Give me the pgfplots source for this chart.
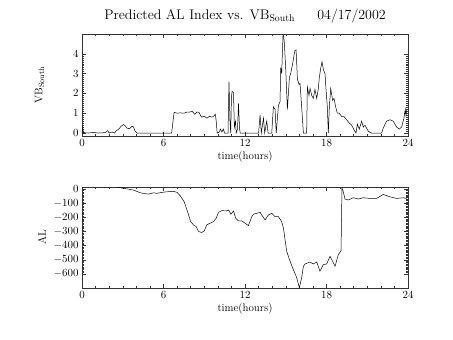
\documentclass[border=0pt]{standalone}
\usepackage{pgfplots}
\pgfplotsset{compat=1.18}
\pgfplotstableread{
h v
0 0
0.05 0.3
0.1 0.02
0.5 0.0
0.8 0.03
1.2 0.0
1.7 0.02
1.9 0.12
2.0 0.0
2.2 0.05
2.4 0.0
2.5 0.1
2.7 0.2
2.9 0.35
3.06 0.43
3.2 0.35
3.3 0.25
3.5 0.22
3.7 0.35
3.8 0.3
3.9 0.1
4.05 0
6.6 0
6.7 0.6
6.78 1.05
7.0 1.0
7.2 1.02
7.5 1.0
7.7 1.05
7.9 1.05
8.1 1.1
8.3 0.95
8.45 1.05
8.6 1.05
8.8 0.8
9.0 0.85
9.2 0.75
9.4 0.85
9.55 0.8
9.7 0.85
9.82 0.95
9.88 0.6
9.95 0
10.1 0.05
10.2 0.2
10.3 0.05
10.4 0.2
10.5 0
10.75 0
10.82 2.6
10.9 0.5
10.95 0
11.0 1.8
11.05 2.1
11.15 2.05
11.22 0.3
11.3 0.6
11.35 0
11.45 0.2
11.52 1.5
11.6 0.2
11.65 0
13.0 0
13.11 0.92
13.2 0
13.36 0.75
13.45 0
13.6 0.6
13.7 0
13.97 0
14.09 1.33
14.21 1.2
14.3 0
14.46 1.4
14.58 1.58
14.63 3.3
14.7 3.0
14.8 4.95
14.85 4.9
14.9 4.5
15.0 3.2
15.12 1.2
15.27 2.8
15.36 3.0
15.51 3.5
15.6 3.9
15.68 4.17
15.76 4.2
15.86 2.7
15.98 2.45
16.05 2.5
16.17 1.33
16.3 0
16.54 0
16.59 2.33
16.71 1.9
16.79 2.25
16.91 1.9
17.03 1.75
17.15 2.2
17.28 1.75
17.4 2.25
17.47 2.8
17.57 3.25
17.67 3.6
17.77 3.2
17.89 3.0
17.96 2.25
18.06 1.33
18.135 0
18.21 1.33
18.31 2.25
18.45 1.65
18.55 1.75
18.7 1.25
18.8 1.0
18.94 1.0
19.12 0.83
19.29 0.83
19.48 0.67
19.68 0.5
19.85 0.4
20.02 0.17
20.17 0
20.27 0.45
20.41 0.2
20.59 0.6
20.71 0.3
20.83 0.4
21.08 0.08
21.32 0
22.06 0
22.18 0.25
22.42 0.6
22.67 0.67
22.91 0.6
23.16 0.3
23.36 0.2
23.53 0.3
23.7 0.75
23.8 1.2
23.85 0.9
23.9 1.15
}\vbdata
\pgfplotstableread{
h al
2.6 15
3.06 5
3.55 -2
3.8 -7
4.3 -26
4.5 -30
4.9 -35
5.27 -26
5.5 -30
5.88 -23
6.25 -19
6.74 -16
7.0 -23
7.23 -47
7.52 -89
7.77 -160
8.0 -230
8.2 -253
8.4 -265
8.58 -300
8.82 -307
9.0 -295
9.19 -253
9.44 -241
9.68 -230
9.88 -206
10.05 -164
10.3 -152
10.66 -155
10.8 -148
10.96 -178
11.15 -155
11.32 -206
11.52 -225
11.76 -225
12.0 -241
12.25 -258
12.5 -195
12.62 -178
12.87 -171
13.11 -164
13.23 -183
13.48 -218
13.72 -183
13.97 -171
14.21 -195
14.46 -195
14.7 -230
14.83 -277
15.07 -441
15.32 -511
15.56 -570
15.81 -628
16.0 -698
16.17 -628
16.3 -546
16.42 -530
16.79 -516
17.03 -530
17.28 -516
17.52 -581
17.77 -534
18.01 -530
18.26 -476
18.45 -511
18.63 -546
18.87 -464
19.07 -436
19.14 5
19.19 0
19.36 -70
19.61 -77
19.97 -61
20.34 -70
20.71 -61
21.2 -66
21.69 -66
22.18 -38
22.67 -54
23.16 -66
23.65 -61
23.9 -66
}\aldata
\begin{document}
\begin{tikzpicture}
\path[use as bounding box] (0,0) rectangle (453bp,340bp);
\pgfplotsset{
  every axis/.append style={
    scale only axis, width=326bp,
    xmin=0, xmax=24, xtick={0,6,12,18,24}, minor x tick num=5,
    tick align=inside, major tick length=4bp, minor tick length=2bp,
    axis line style={line width=0.5pt, black!80},
    every tick/.style={black!80, line width=0.4pt},
    tick label style={font=\fontsize{11}{13}\selectfont},
    label style={font=\fontsize{11}{13}\selectfont},
    xlabel={time(hours)},
    xlabel style={yshift=2bp},
    minor y tick num=9,
  }
}
\begin{axis}[at={(82bp,204bp)}, anchor=south west, height=102bp,
  ymin=-0.15, ymax=5, ytick={0,1,2,3,4},
  ylabel={VB\textsubscript{South}},
  ylabel style={at={(axis description cs:-0.105,0.5)}, anchor=south},
  title={Predicted AL Index vs. VB\textsubscript{South}\hspace{1.6em}04/17/2002},
  title style={font=\fontsize{14}{16}\selectfont, yshift=2bp},
]
\addplot[black, line width=0.5pt] table[x=h, y=v] {\vbdata};
\end{axis}
\begin{axis}[at={(82bp,52bp)}, anchor=south west, height=101bp,
  ymin=-700, ymax=15, ytick={-600,-500,-400,-300,-200,-100,0},
  ylabel={AL},
  ylabel style={at={(axis description cs:-0.1,0.5)}, anchor=south},
]
\addplot[black, line width=0.5pt] table[x=h, y=al] {\aldata};
\end{axis}
\end{tikzpicture}
\end{document}
